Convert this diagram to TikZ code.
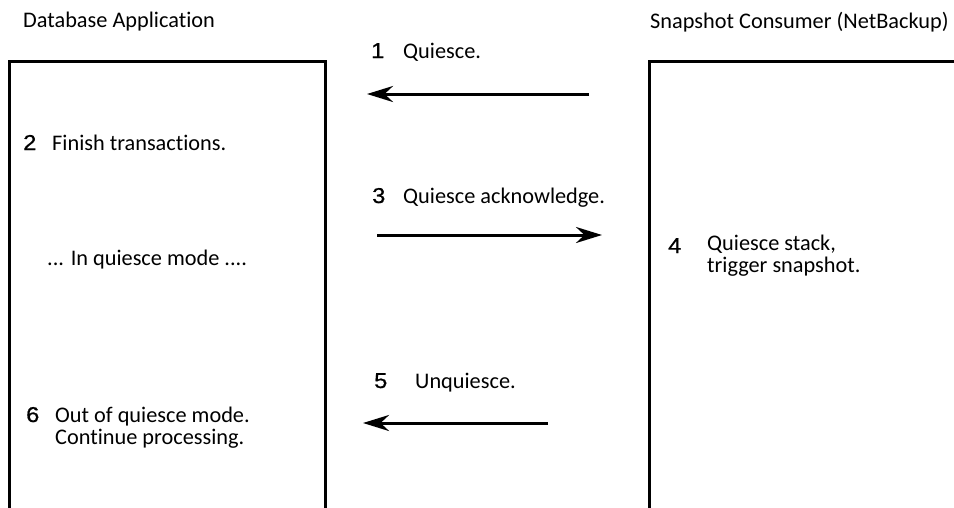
\documentclass[tikz,border=0pt]{standalone}
\usepackage{fontspec}
\setmainfont{Carlito}[Ligatures=NoCommon]
\newfontfamily\numfont{Liberation Sans}[FakeBold=0.8, FakeStretch=1.1]
\usetikzlibrary{arrows.meta}

\begin{document}
\begin{tikzpicture}[
    x=1pt, y=-1pt,
    lane/.style={line width=3pt},
    txt/.style={anchor=base west, inner sep=0pt, font=\fontsize{22.3}{22}\selectfont},
    num/.style={txt, font=\fontsize{21.5}{22}\selectfont\numfont},
    arrow/.style={-{Stealth[length=26pt, width=16pt]}, line width=3pt}
]
\clip (0,0) rectangle (954,507);

% the two lanes, open at the bottom
\draw[lane] (9,520) -- (9,61) -- (325,61) -- (325,520);
\draw[lane] (649,520) -- (649,61) -- (970,61);

\node[txt] (dbtitle) at (23,27) {Database Application};
\node[txt] (sctitle) at (650,28) {Snapshot Consumer (NetBackup)};

\node[num] (n1) at (371,58) {1};
\node[txt] (t1) at (403,58) {Quiesce.};
\node[num] (n2) at (23,150) {2};
\node[txt] (t2) at (52,150) {Finish transactions.};
\node[num] (n3) at (372,203) {3};
\node[txt] (t3) at (403,203) {Quiesce acknowledge.};
\node[num] (n4) at (668,253) {4};
\node[txt] (t4a) at (707,250) {Quiesce stack,};
\node[txt] (t4b) at (707,272) {trigger snapshot.};
\node[txt] (mode) at (47,265) {... In quiesce mode ....};
\node[num] (n5) at (374,388) {5};
\node[txt] (t5) at (415,388) {Unquiesce.};
\node[num] (n6) at (26,422) {6};
\node[txt] (t6a) at (55,422) {Out of quiesce mode.};
\node[txt] (t6b) at (55,444) {Continue processing.};

\coordinate (q1s) at (589,94);
\coordinate (q1e) at (367,94);
\coordinate (q3s) at (377,235);
\coordinate (q3e) at (602,235);
\coordinate (q5s) at (548,423);
\coordinate (q5e) at (363,423);

\draw[arrow] (q1s) -- (q1e);
\draw[arrow] (q3s) -- (q3e);
\draw[arrow] (q5s) -- (q5e);
\end{tikzpicture}
\end{document}
